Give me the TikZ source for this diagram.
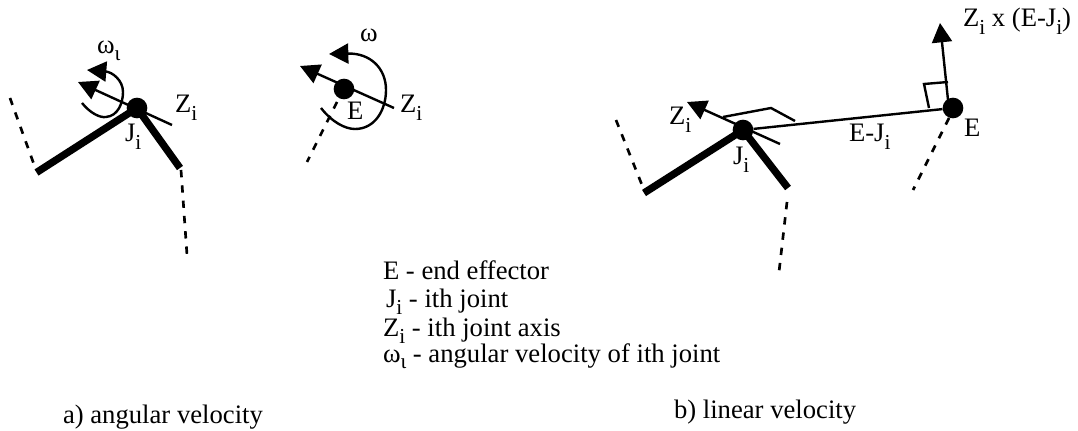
\documentclass[tikz,border=0pt]{standalone}
\usepackage{fontspec}
\setmainfont{Liberation Serif}
\usetikzlibrary{arrows.meta}
\newcommand{\subi}{\raisebox{-0.28em}{\fontsize{16}{16}\selectfont i}}
\newcommand{\subiota}{\raisebox{-0.25em}{\fontsize{16}{16}\selectfont ι}}
\tikzset{
  x=0.75pt,y=-0.75pt,
  label text/.style={inner sep=0pt,outer sep=0pt,anchor=base west,font=\fontsize{20}{24}\selectfont},
  link/.style={line width=5.5pt,line cap=butt},
  thin link/.style={line width=1.8pt},
  axis/.style={line width=1.8pt,-{Triangle[length=14.5pt,width=15pt]}},
  spin/.style={line width=1.8pt,-{Triangle[length=14.5pt,width=15pt]}},
  dash link/.style={line width=2pt,dash pattern=on 5.5pt off 6pt},
  dot/.style={circle,fill=black,inner sep=0pt,minimum size=15.5pt}
}
\begin{document}
\begin{tikzpicture}
\useasboundingbox (0,0) rectangle (1078,431);
% panel a: joint
\node[dot] (J1) at (137,108) {};
\coordinate (L1) at (36.5,172.5);
\coordinate (R1) at (180,168);
\coordinate (DL1) at (10,98);
\coordinate (DLe1) at (36,170);
\coordinate (DRs1) at (181,170);
\coordinate (DR1) at (187,255);
\coordinate (AxB1) at (172,125);
\coordinate (AxT1) at (78,82);
\draw[link] (L1) -- (J1.center) -- (R1);
\draw[dash link] (DL1) -- (DLe1);
\draw[dash link] (DRs1) -- (DR1);
\draw[axis] (AxB1) -- (AxT1);
\draw[spin] (82,103) .. controls (90,113) and (100,118) .. (106,117) .. controls (118,116) and (123,103) .. (123,92) .. controls (123,80) and (112,72) .. (87,70);
\node[label text] (w1) at (97,54) {ω\subiota};
\node[label text] (z1) at (175,113) {Z\subi};
\node[label text] (j1) at (125,142) {J\subi};
% panel a: end effector
\node[dot] (E1) at (344,89) {};
\coordinate (AxB2) at (394,108);
\coordinate (AxT2) at (300,66);
\coordinate (D2s) at (337,102);
\coordinate (D2e) at (307,162);
\draw[axis] (AxB2) -- (AxT2);
\draw[dash link] (D2s) -- (D2e);
\draw[spin] (321,108) .. controls (332,122) and (345,129) .. (355,129) .. controls (375,129) and (386,110) .. (386,90) .. controls (386,68) and (370,53) .. (329,54);
\node[label text] (w2) at (360,42) {ω};
\node[label text] (e1) at (347,120) {E};
\node[label text] (z2) at (400,113) {Z\subi};
% panel b
\node[dot] (J2) at (743,130) {};
\node[dot] (E2) at (953,108) {};
\coordinate (L2) at (644,193);
\coordinate (R2) at (788,188);
\coordinate (DL2) at (616,120);
\coordinate (DLe2) at (642,185);
\coordinate (DRs2) at (787,202);
\coordinate (DR2) at (779,272);
\coordinate (AxB3) at (780,144);
\coordinate (AxT3) at (687,102);
\coordinate (Up) at (940,23);
\coordinate (Upb) at (948,100);
\coordinate (A1) at (723,117);
\coordinate (A2) at (771,108);
\coordinate (A3) at (795,121);
\coordinate (S1) at (929,108);
\coordinate (S2) at (924,84);
\coordinate (S3) at (948,82);
\draw[link] (L2) -- (J2.center) -- (R2);
\draw[dash link] (DL2) -- (DLe2);
\draw[dash link] (DRs2) -- (DR2);
\draw[axis] (AxB3) -- (AxT3);
\draw[thin link] (J2) -- (E2);
\draw[thin link] (A1) -- (A2) -- (A3);
\draw[thin link] (S1) -- (S2) -- (S3);
\draw[axis] (Upb) -- (Up);
\coordinate (D3s) at (949,118);
\coordinate (D3e) at (913,190);
\draw[dash link] (D3s) -- (D3e);
\node[label text] (z3) at (669,125) {Z\subi};
\node[label text] (j2) at (733,165) {J\subi};
\node[label text] (ej) at (849,142) {E-J\subi};
\node[label text] (e2) at (964,137) {E};
\node[label text] (zx) at (963,27) {Z\subi{} x (E-J\subi)};
% legend
\node[label text] (l1) at (383,279) {E - end effector};
\node[label text] (l2) at (386,307) {J\subi{} - ith joint};
\node[label text] (l3) at (383,336) {Z\subi{} - ith joint axis};
\node[label text] (l4) at (383,362) {ω\subiota{} - angular velocity of ith joint};
% captions
\node[label text] (ca) at (63,423) {a) angular velocity};
\node[label text] (cb) at (674,418) {b) linear velocity};
\end{tikzpicture}
\end{document}
